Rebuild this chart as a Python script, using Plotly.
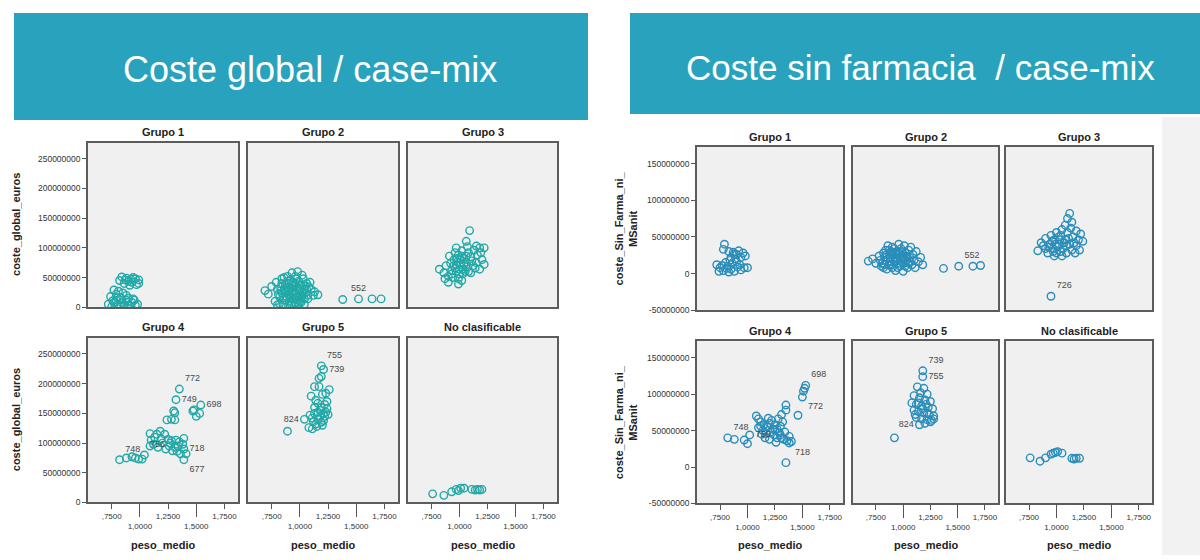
import plotly.graph_objects as go

# ---------------------------------------------------------------
# peso_medio (x) and cost in millions of euros (y), per group
# ---------------------------------------------------------------
# Coste global / case-mix
glob_g1_x = [0.84, 0.88, 0.96, 0.99, 0.90, 0.93, 0.86, 0.97, 0.82, 0.94, 0.91, 0.99,
             0.77, 0.81, 0.85, 0.79, 0.88, 0.74, 0.80, 0.90,
             0.88, 0.95, 0.84, 0.77, 0.93, 0.72, 0.80, 0.86, 0.98, 0.91, 0.75, 0.83,
             0.87, 0.92, 0.79, 0.96, 0.83, 0.89, 0.76, 0.94]
glob_g1_y = [51, 49, 48, 46, 44, 42, 40, 38, 45, 50, 37, 40,
             29, 27, 24, 22, 20, 18, 16, 15,
             12, 12, 8, 8, 8, 5, 4, 3, 5, 2, 1, 0.5,
             46, 47, 12, 3, 16, 9, 11, 14]

glob_g2_x = [0.69, 0.72, 0.75, 0.79, 0.80, 0.82, 0.84, 0.86, 0.87, 0.88, 0.88, 0.90, 0.90,
             0.91, 0.92, 0.93, 0.93, 0.94, 0.95, 0.96, 0.97, 0.97, 0.98, 0.99, 1.00, 1.00,
             1.01, 1.02, 1.03, 1.04, 1.05, 1.06, 1.07, 1.08, 1.10, 1.12, 1.13, 1.16, 0.85,
             0.78, 0.95, 1.04, 0.89, 1.09, 0.84, 0.99, 0.92, 1.02, 0.86, 0.96,
             0.81, 0.83, 0.85, 0.87, 0.89, 0.91, 0.93, 0.95, 0.97, 0.99, 1.01, 1.03, 1.05,
             0.82, 0.86, 0.90, 0.94, 0.98, 1.02, 1.06, 0.84, 0.88, 0.92, 0.96, 1.00, 1.04,
             0.80, 0.90, 1.00, 0.94, 0.88, 0.97, 1.07, 0.83, 0.91, 0.99,
             1.38, 1.64, 1.72]
glob_g2_y = [28, 22, 35, 42, 30, 18, 48, 50, 38, 26, 12, 44, 32,
             20, 6, 58, 38, 28, 15, 52, 34, 22, 60, 44, 28, 10,
             38, 18, 48, 30, 24, 40, 14, 34, 30, 20, 26, 21, 4,
             10, 2, 5, 52, 42, 24, 16, 46, 54, 30, 40,
             22, 34, 16, 28, 40, 10, 24, 36, 18, 30, 8, 22, 36,
             6, 12, 26, 42, 12, 26, 30, 40, 18, 32, 8, 36, 14,
             4, 2, 20, 22, 34, 48, 20, 28, 16, 6,
             13, 14, 14]
glob_g2_lab_x = [1.52]
glob_g2_lab_y = [14]
glob_g2_lab = ["552"]

glob_g3_x = [1.09, 1.06, 1.15, 1.18, 0.97, 0.91, 1.22, 0.82, 0.90, 0.99, 0.97,
             0.86, 0.88, 0.93, 0.95, 0.99, 1.02, 1.04, 1.06, 1.08, 1.10, 1.12, 1.14,
             1.16, 1.20, 1.18, 0.94, 1.00, 1.03, 0.92, 1.01, 0.96, 1.05, 1.07, 1.13,
             0.87, 1.02, 1.10, 0.98, 1.15, 1.22, 1.19,
             0.95, 0.98, 1.01, 1.04, 1.07, 0.93, 0.97, 1.00, 1.03, 1.06, 0.90, 0.99,
             1.11, 1.08, 0.96, 1.02]
glob_g3_y = [129, 111, 103, 100, 100, 86, 72, 64, 42, 39, 72,
             58, 70, 62, 80, 88, 95, 82, 76, 92, 85, 70, 66,
             88, 80, 64, 50, 56, 64, 74, 72, 66, 60, 102, 96,
             48, 45, 58, 82, 75, 100, 92,
             70, 76, 80, 72, 68, 56, 60, 64, 56, 86, 52, 48,
             78, 60, 92, 86]

glob_g4_x = [1.30, 1.28, 1.24, 1.31, 1.31, 1.48, 1.53, 1.50, 1.47,
             0.88, 0.93, 0.96, 0.99, 1.02,
             1.09, 1.10, 1.15, 1.18, 1.22, 1.12, 1.16, 1.09,
             1.25, 1.28, 1.32, 1.35, 1.26, 1.31, 1.34, 1.38, 1.23, 1.29, 1.39,
             1.41, 1.36, 1.20, 1.27, 1.13, 1.19, 1.33]
glob_g4_y = [154, 140, 139, 139, 151, 156, 150, 145, 154,
             75, 77, 75, 73, 73,
             116, 105, 115, 120, 115, 98, 93, 95,
             106, 104, 105, 102, 95, 93, 95, 98, 90, 87, 108,
             82, 82, 100, 100, 110, 107, 86]
glob_g4_lab_x = [1.35, 1.32, 1.54, 0.82, 1.04, 1.39, 1.39]
glob_g4_lab_y = [191, 173, 164, 72, 80, 90, 72]
glob_g4_lab = ["772", "749", "698", "748", "756", "718", "677"]

glob_g5_x = [1.19, 1.17, 1.13, 1.17, 1.26, 1.10, 1.20, 1.23, 1.16, 1.22, 1.13, 1.19,
             1.24, 1.16, 1.21, 1.25, 1.13, 1.18, 1.22, 1.11, 1.16, 1.21, 1.08, 1.11,
             0.89, 1.14, 1.19, 1.09, 1.24, 1.14, 1.18, 1.23, 1.12, 1.15, 1.20]
glob_g5_y = [212, 209, 195, 195, 190, 179, 182, 184, 167, 165, 160, 160,
             158, 152, 150, 148, 150, 145, 145, 142, 140, 138, 126, 124,
             120, 132, 135, 147, 170, 172, 155, 152, 136, 128, 130]
glob_g5_lab_x = [1.19, 1.21, 1.04]
glob_g5_lab_y = [230, 224, 140]
glob_g5_lab = ["755", "739", "824"]

glob_nc_x = [0.76, 0.86, 0.93, 0.97, 1.01, 1.04, 1.11, 1.16, 1.20, 0.99, 1.14, 1.18]
glob_nc_y = [14.5, 12, 18, 22, 24, 24, 22, 22, 22, 20, 21, 21]

# Coste sin farmacia / case-mix
sinf_g1_x = [0.79, 0.78, 0.83, 0.87, 0.92, 0.96, 0.90, 0.98, 0.85, 0.94,
             0.72, 0.75, 0.78, 0.82, 0.85, 0.88, 0.91, 0.94, 0.97, 1.00,
             0.80, 0.86, 0.74, 0.90, 0.83, 0.77, 0.84, 0.89, 0.93, 0.81, 0.88]
sinf_g1_y = [40, 33, 30, 29, 31, 28, 26, 24, 22, 22,
             12, 8, 4, 10, 6, 3, 9, 5, 8, 8,
             15, 14, 3, 16, 2, 11, 18, 20, 12, 7, 27]

sinf_g2_x = [0.68, 0.72, 0.75, 0.78, 0.80, 0.82, 0.84, 0.85, 0.87, 0.88, 0.89, 0.90,
             0.91, 0.92, 0.93, 0.94, 0.95, 0.96, 0.97, 0.98, 0.99, 1.00, 1.01, 1.02,
             1.03, 1.04, 1.05, 1.06, 1.07, 1.08, 1.09, 1.10, 1.12, 1.14, 1.16, 1.18,
             0.86, 0.93, 1.00, 0.95, 1.11, 0.83,
             0.79, 0.81, 0.83, 0.85, 0.87, 0.89, 0.91, 0.93, 0.95, 0.97, 0.99, 1.01,
             1.03, 1.05, 0.82, 0.86, 0.90, 0.94, 0.98, 1.02, 1.06, 0.88, 0.92, 0.96,
             1.00, 1.04, 0.84, 0.90, 0.97,
             1.37, 1.64, 1.71]
sinf_g2_y = [17, 20, 14, 24, 10, 28, 18, 6, 32, 22, 12, 36,
             26, 16, 4, 30, 20, 40, 10, 34, 24, 14, 38, 28,
             18, 8, 32, 22, 36, 12, 26, 18, 30, 16, 22, 12,
             38, 28, 3, 8, 8, 12,
             18, 14, 22, 26, 12, 30, 20, 16, 26, 14, 30, 20,
             24, 14, 8, 20, 8, 22, 18, 10, 16, 16, 34, 28,
             24, 22, 32, 28, 20,
             7, 10, 11]
sinf_g2_lab_x = [1.51]
sinf_g2_lab_y = [10]
sinf_g2_lab = ["552"]

sinf_g3_x = [1.12, 1.10, 1.14, 1.08, 1.13, 1.05, 1.18, 1.00, 1.10, 1.22, 0.95, 1.04,
             1.15, 0.90, 0.98, 1.08, 1.20, 1.24, 0.86, 0.94, 1.02, 1.12, 1.18, 0.83,
             0.90, 0.97, 1.06, 1.14, 1.21, 0.92, 1.00, 1.09, 1.17, 0.98, 1.05, 0.88,
             1.03, 0.96, 1.01, 1.07, 0.99, 1.11, 0.93, 1.04, 1.16, 1.09, 0.97, 1.02]
sinf_g3_y = [82, 75, 70, 66, 62, 60, 58, 56, 56, 54, 52, 52,
             50, 48, 46, 46, 46, 44, 42, 40, 40, 40, 38, 31,
             34, 34, 34, 32, 32, 28, 28, 28, 28, 24, 24, 38,
             46, 44, 36, 42, 40, 48, 36, 30, 42, 38, 30, 50]
sinf_g3_lab_x = [0.95]
sinf_g3_lab_y = [-31]
sinf_g3_lab = ["726"]

sinf_g4_x = [1.52, 1.51, 1.46, 1.35, 1.35, 0.88, 0.97, 1.00,
             1.08, 1.10, 1.12, 1.15, 1.18, 1.20, 1.22, 1.25, 1.27, 1.30, 1.32, 1.28,
             1.10, 1.14, 1.17, 1.21, 1.24, 1.27, 1.30, 1.33, 1.36, 1.34, 1.26, 1.20,
             1.16, 1.23, 1.29, 1.31, 1.12, 1.19, 1.38, 1.40, 1.35, 1.13, 1.25, 1.31]
sinf_g4_y = [108, 104, 71, 85, 78, 38, 37, 32,
             70, 66, 62, 58, 55, 60, 64, 58, 52, 56, 62, 66,
             54, 50, 46, 48, 44, 40, 44, 38, 36, 48, 34, 38,
             40, 52, 47, 72, 56, 67, 42, 35, 6, 45, 51, 40]
sinf_g4_lab_x = [1.53, 1.50, 0.82, 1.02, 1.38]
sinf_g4_lab_y = [112, 96, 40, 44, 33]
sinf_g4_lab = ["698", "772", "748", "756", "718"]

sinf_g5_x = [1.13, 1.19, 1.22, 1.10, 1.15, 1.20, 1.25, 1.08, 1.12, 1.17, 1.23, 1.27,
             1.10, 1.14, 1.19, 1.24, 1.28, 1.12, 1.17, 1.22, 1.26, 1.28, 1.20, 1.25,
             0.92, 1.16, 1.21, 1.14, 1.18, 1.22, 1.11]
sinf_g5_y = [110, 108, 100, 98, 95, 92, 90, 88, 86, 84, 82, 80,
             78, 76, 74, 72, 70, 68, 66, 65, 64, 66, 60, 62,
             40, 102, 86, 88, 80, 74, 72]
sinf_g5_lab_x = [1.18, 1.18, 1.15]
sinf_g5_lab_y = [132, 124, 58]
sinf_g5_lab = ["739", "755", "824"]

sinf_nc_x = [0.76, 0.85, 0.90, 0.95, 0.99, 1.05, 1.14, 1.18, 1.21, 1.01, 1.16, 0.97]
sinf_nc_y = [12.6, 8, 12.6, 17.6, 20, 19, 12, 12, 12, 21, 11, 19]

group_names = ["Grupo 1", "Grupo 2", "Grupo 3", "Grupo 4", "Grupo 5", "No clasificable"]

glob_ticks = [0, 50, 100, 150, 200, 250]
sinf_ticks = [-50, 0, 50, 100, 150]
x_ticks = [0.75, 1.0, 1.25, 1.5, 1.75]
x_tick_text = [",7500", "<br>1,0000", "1,2500", "<br>1,5000", "1,7500"]
x_long_ticks = [1.0, 1.5]   # ticks that reach down to the lower label row

# ---------------------------------------------------------------
W, H = 1200, 560
FONT = "Liberation Sans, Arial, sans-serif"
BANNER = "#29a3bd"
GLOB_COLOR = "#21a9a8"
SINF_COLOR = "#2a8dba"
X_RANGE = [0.54, 1.87]


def px_x(p):
    return p / W


def px_y(p):
    return 1 - p / H


fig = go.Figure()

glob_panels = [
    (glob_g1_x, glob_g1_y, None),
    (glob_g2_x, glob_g2_y, (glob_g2_lab_x, glob_g2_lab_y, glob_g2_lab, ["top center"])),
    (glob_g3_x, glob_g3_y, None),
    (glob_g4_x, glob_g4_y, (glob_g4_lab_x, glob_g4_lab_y, glob_g4_lab,
                            ["top right", "middle right", "middle right", "top right",
                             "top right", "middle right", "bottom right"])),
    (glob_g5_x, glob_g5_y, (glob_g5_lab_x, glob_g5_lab_y, glob_g5_lab,
                            ["top right", "middle right", "middle left"])),
    (glob_nc_x, glob_nc_y, None),
]
sinf_panels = [
    (sinf_g1_x, sinf_g1_y, None),
    (sinf_g2_x, sinf_g2_y, (sinf_g2_lab_x, sinf_g2_lab_y, sinf_g2_lab, ["top right"])),
    (sinf_g3_x, sinf_g3_y, (sinf_g3_lab_x, sinf_g3_lab_y, sinf_g3_lab, ["top right"])),
    (sinf_g4_x, sinf_g4_y, (sinf_g4_lab_x, sinf_g4_lab_y, sinf_g4_lab,
                            ["top right", "bottom right", "top right", "middle right",
                             "bottom right"])),
    (sinf_g5_x, sinf_g5_y, (sinf_g5_lab_x, sinf_g5_lab_y, sinf_g5_lab,
                            ["top right", "middle right", "middle left"])),
    (sinf_nc_x, sinf_nc_y, None),
]

# pixel frames of the small multiples: (columns, rows)
glob_cols = [(88, 238), (248, 398), (408, 557)]
glob_rows = [(144, 310), (341, 507)]
sinf_cols = [(697, 843), (853, 998), (1006, 1152)]
sinf_rows = [(148, 313), (344, 508)]

layout_axes = {}
annotations = []
extra_axis = [12]   # counter for the overlay axes that carry the long ticks


def label(text, x, y, size=11, color="#222", angle=0):
    return dict(text=text, x=px_x(x), y=px_y(y), xref="paper", yref="paper",
                showarrow=False, xanchor="center", yanchor="middle", textangle=angle,
                font=dict(family=FONT, size=size, color=color))


def add_block(panels, cols, rows, color, y_range, y_ticks, y_title, axis_offset, title_dy):
    for i, (xs, ys, labs) in enumerate(panels):
        r, c = divmod(i, 3)
        n = axis_offset + i + 1
        xa = "x" if n == 1 else f"x{n}"
        ya = "y" if n == 1 else f"y{n}"
        x0, x1 = cols[c]
        y0, y1 = rows[r]
        marker = dict(symbol="circle-open", size=7.5, color=color,
                      line=dict(width=1.4, color=color))
        fig.add_trace(go.Scatter(x=xs, y=[v * 1e6 for v in ys], mode="markers",
                                 marker=marker, xaxis=xa, yaxis=ya, showlegend=False,
                                 hoverinfo="skip"))
        if labs:
            lx, ly, lt, pos = labs
            fig.add_trace(go.Scatter(x=lx, y=[v * 1e6 for v in ly], mode="markers+text",
                                     text=lt, textposition=pos,
                                     textfont=dict(family=FONT, size=9, color="#4a4a4a"),
                                     marker=marker, xaxis=xa, yaxis=ya, showlegend=False,
                                     hoverinfo="skip"))
        bottom = r == 1
        left = c == 0
        layout_axes["xaxis" + ("" if n == 1 else str(n))] = dict(
            domain=[px_x(x0), px_x(x1)], anchor=ya, range=X_RANGE,
            showgrid=False, zeroline=False, showline=True, mirror=True,
            linecolor="#5c5c5c", linewidth=1.6,
            tickvals=x_ticks, ticktext=x_tick_text, showticklabels=bottom,
            ticks="outside" if bottom else "", ticklen=5, tickcolor="#555",
            tickfont=dict(family=FONT, size=8, color="#333"),
        )
        layout_axes["yaxis" + ("" if n == 1 else str(n))] = dict(
            domain=[px_y(y1), px_y(y0)], anchor=xa, range=y_range,
            showgrid=False, zeroline=False, showline=True, mirror=True,
            linecolor="#5c5c5c", linewidth=1.6,
            tickvals=[t * 1e6 for t in y_ticks],
            ticktext=[str(int(t * 1e6)) for t in y_ticks],
            showticklabels=left, ticks="outside" if left else "", ticklen=4,
            tickcolor="#555", tickfont=dict(family=FONT, size=8.5, color="#333"),
        )
        if bottom:
            # overlay axis drawing the longer ticks of the staggered labels;
            # it carries a copy of the panel's points, fully transparent
            extra_axis[0] += 1
            m = extra_axis[0]
            fig.add_trace(go.Scatter(x=xs, y=[v * 1e6 for v in ys], mode="markers",
                                     opacity=0, xaxis=f"x{m}", yaxis=ya,
                                     showlegend=False, hoverinfo="skip"))
            layout_axes[f"xaxis{m}"] = dict(
                domain=[px_x(x0), px_x(x1)], anchor=ya, overlaying=xa, range=X_RANGE,
                showgrid=False, zeroline=False, showline=False, side="bottom",
                tickvals=x_long_ticks, ticktext=["", ""], showticklabels=True,
                ticks="outside", ticklen=14, tickwidth=1, tickcolor="#555",
            )
            annotations.append(label("<b>peso_medio</b>", (x0 + x1) / 2, 550))
        annotations.append(label(f"<b>{group_names[i]}</b>", (x0 + x1) / 2, y0 - title_dy))
    for (y0, y1) in rows:
        annotations.append(label(y_title[0], y_title[1], (y0 + y1) / 2, angle=-90))


add_block(glob_panels, glob_cols, glob_rows, GLOB_COLOR, [0, 277e6], glob_ticks,
          ("<b>coste_global_euros</b>", 16), 0, 11)
add_block(sinf_panels, sinf_cols, sinf_rows, SINF_COLOR, [-50e6, 173e6], sinf_ticks,
          ("<b>coste_Sin_Farma_ni_<br>MSanit</b>", 626), 6, 10)

shapes = [
    dict(type="rect", xref="paper", yref="paper", x0=px_x(14), x1=px_x(588),
         y0=px_y(121), y1=px_y(13), fillcolor=BANNER, line=dict(width=0), layer="below"),
    dict(type="rect", xref="paper", yref="paper", x0=px_x(630), x1=px_x(1200),
         y0=px_y(115), y1=px_y(13), fillcolor=BANNER, line=dict(width=0), layer="below"),
    dict(type="rect", xref="paper", yref="paper", x0=px_x(1162), x1=px_x(1200),
         y0=px_y(560), y1=px_y(118), fillcolor="#f2f2f2", line=dict(width=0), layer="below"),
]
annotations += [
    label("Coste global / case-mix", 310, 70, size=36, color="white"),
    label("Coste sin farmacia  / case-mix", 920, 68, size=35, color="white"),
]

fig.update_layout(
    width=W, height=H, margin=dict(l=0, r=0, t=0, b=0),
    paper_bgcolor="white", plot_bgcolor="#f0f0f0",
    font=dict(family=FONT), shapes=shapes, annotations=annotations,
    **layout_axes,
)

fig.write_html("out.html", config={"displayModeBar": False})
